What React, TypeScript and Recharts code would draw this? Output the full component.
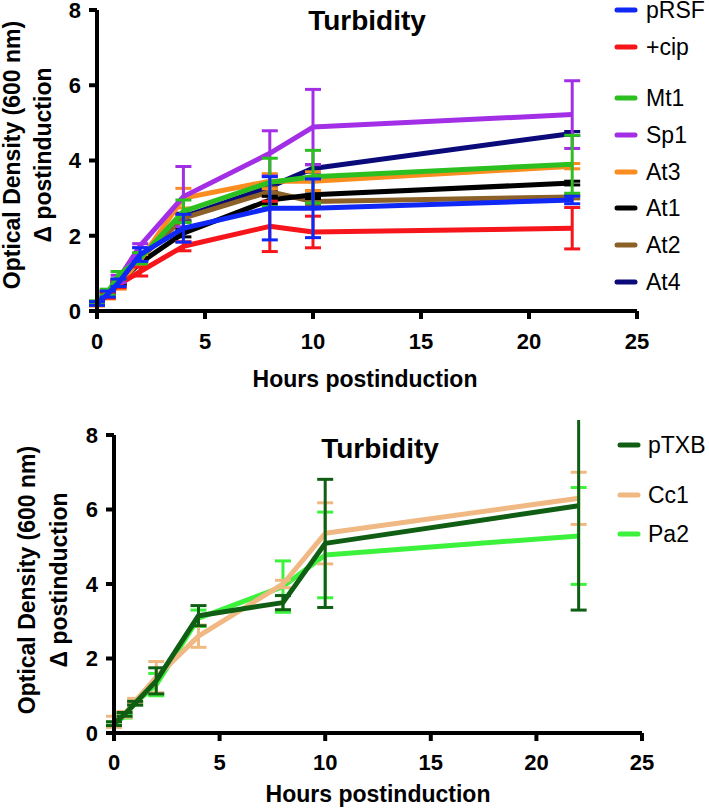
import React from "react";
import { LineChart, Line, XAxis, YAxis, ErrorBar } from "recharts";

// hours postinduction
const hoursTop = [0, 0.5, 1, 2, 4, 8, 10, 22];
const hoursBottom = [0, 0.5, 1, 2, 4, 8, 10, 22];

const xTicks = [0, 5, 10, 15, 20, 25];
const yTicks = [0, 2, 4, 6, 8];

// top panel series (OD600 delta) and SD
const pRSF = [0.2, 0.45, 0.75, 1.5, 2.2, 2.73, 2.73, 2.95];
const pRSFErr = [0.05, 0.08, 0.1, 0.18, 0.37, 0.84, 0.78, 0.1];
const cip = [0.2, 0.42, 0.7, 1.05, 1.72, 2.25, 2.1, 2.2];
const cipErr = [0.05, 0.08, 0.08, 0.12, 0.12, 0.67, 0.42, 0.55];
const mt1 = [0.22, 0.5, 0.95, 1.4, 2.65, 3.42, 3.57, 3.9];
const mt1Err = [0.05, 0.08, 0.1, 0.15, 0.3, 0.64, 0.7, 0.77];
const sp1 = [0.2, 0.48, 0.85, 1.74, 3.04, 4.19, 4.89, 5.22];
const sp1Err = [0.05, 0.08, 0.1, 0.05, 0.8, 0.6, 1.0, 0.9];
const at3 = [0.18, 0.42, 0.7, 1.35, 3.0, 3.45, 3.45, 3.85];
const at3Err = [0.05, 0.1, 0.12, 0.15, 0.26, 0.2, 0.25, 0.07];
const at1 = [0.2, 0.45, 0.75, 1.28, 2.07, 2.95, 3.09, 3.4];
const at1Err = [0.03, 0.05, 0.05, 0.08, 0.1, 0.1, 0.1, 0.05];
const at2 = [0.2, 0.45, 0.78, 1.4, 2.47, 3.17, 2.91, 3.03];
const at2Err = [0.03, 0.05, 0.05, 0.08, 0.1, 0.12, 0.1, 0.05];
const at4 = [0.2, 0.45, 0.78, 1.45, 2.5, 3.3, 3.79, 4.72];
const at4Err = [0.03, 0.05, 0.05, 0.08, 0.1, 0.1, 0.1, 0.05];

// bottom panel
const pTXB = [0.25, 0.5, 0.8, 1.4, 3.15, 3.5, 5.09, 6.1];
const pTXBErr = [0.05, 0.05, 0.05, 0.35, 0.27, 0.19, 1.72, 2.8];
const cc1 = [0.3, 0.5, 0.85, 1.5, 2.6, 4.0, 5.36, 6.3];
const cc1Err = [0.15, 0.08, 0.08, 0.42, 0.3, 0.1, 0.82, 0.7];
const pa2 = [0.25, 0.45, 0.8, 1.3, 3.08, 3.93, 4.78, 5.29];
const pa2Err = [0.05, 0.05, 0.05, 0.3, 0.22, 0.69, 1.15, 1.3];

const topSeries = [
  { key: "pRSF", values: pRSF, err: pRSFErr, color: "#1028f5" },
  { key: "+cip", values: cip, err: cipErr, color: "#f5151a" },
  { key: "Mt1", values: mt1, err: mt1Err, color: "#2cbf20" },
  { key: "Sp1", values: sp1, err: sp1Err, color: "#a22ee6" },
  { key: "At3", values: at3, err: at3Err, color: "#fa8c20" },
  { key: "At1", values: at1, err: at1Err, color: "#000000" },
  { key: "At2", values: at2, err: at2Err, color: "#8b6128" },
  { key: "At4", values: at4, err: at4Err, color: "#0a0a7a" },
];
// draw order (last on top)
const topOrder = ["At4", "At2", "At1", "At3", "+cip", "Sp1", "Mt1", "pRSF"];

const bottomSeries = [
  { key: "pTXB", values: pTXB, err: pTXBErr, color: "#105e14" },
  { key: "Cc1", values: cc1, err: cc1Err, color: "#f0b882" },
  { key: "Pa2", values: pa2, err: pa2Err, color: "#3cf23c" },
];
const bottomOrder = ["Pa2", "Cc1", "pTXB"];

const FONT = "'Liberation Sans', Arial, Helvetica, sans-serif";

function buildRows(hours: number[], series: typeof topSeries) {
  return hours.map((t, i) => {
    const row: Record<string, number> = { t };
    series.forEach((s) => {
      row[s.key] = s.values[i];
      row[s.key + "_e"] = s.err[i];
    });
    return row;
  });
}

const topRows = buildRows(hoursTop, topSeries);
const bottomRows = buildRows(hoursBottom, bottomSeries);

const axisLine = { stroke: "#000", strokeWidth: 4 };
const tickStyle = { fill: "#000", fontSize: 22, fontWeight: 700, fontFamily: FONT };

function Panel({
  rows,
  series,
  order,
  margin,
  height,
  xMargin,
}: {
  rows: Record<string, number>[];
  series: typeof topSeries;
  order: string[];
  margin: { top: number; right: number; left: number; bottom: number };
  height: number;
  xMargin: number;
}) {
  return (
    <LineChart width={709} height={height} data={rows} margin={margin}>
      <XAxis
        dataKey="t"
        type="number"
        domain={[0, 25]}
        ticks={xTicks}
        interval={0}
        height={30}
        axisLine={axisLine}
        tickLine={axisLine}
        tickSize={8}
        tickMargin={xMargin}
        tick={tickStyle}
      />
      <YAxis
        type="number"
        domain={[0, 8]}
        ticks={yTicks}
        interval={0}
        width={60}
        allowDataOverflow
        axisLine={axisLine}
        tickLine={axisLine}
        tickSize={8}
        tickMargin={8}
        tick={tickStyle}
      />
      {order.map((k) => {
        const s = series.find((x) => x.key === k)!;
        return (
          <Line
            key={k}
            dataKey={k}
            type="linear"
            stroke={s.color}
            strokeWidth={5}
            strokeLinejoin="round"
            dot={false}
            activeDot={false}
            isAnimationActive={false}
          >
            <ErrorBar
              dataKey={k + "_e"}
              width={8}
              strokeWidth={3}
              stroke={s.color}
              direction="y"
              isAnimationActive={false}
            />
          </Line>
        );
      })}
    </LineChart>
  );
}

const topLegendY = [10, 47, 98, 135, 172, 208, 245, 282];
const bottomLegendY = [445, 495, 534];

function Overlay() {
  const yLabel = (x1: number, x2: number, cy: number) => (
    <g fontFamily={FONT} fontWeight={700} fontSize={23} fill="#000" textAnchor="middle">
      <text x={x1} y={cy} transform={`rotate(-90 ${x1} ${cy})`}>
        Optical Density (600 nm)
      </text>
      <text x={x2} y={cy} transform={`rotate(-90 ${x2} ${cy})`}>
        Δ postinduction
      </text>
    </g>
  );
  return (
    <svg
      width={709}
      height={810}
      style={{ position: "absolute", left: 0, top: 0, pointerEvents: "none" }}
    >
      <g fontFamily={FONT} fontWeight={700} fontSize={28} fill="#000" textAnchor="middle">
        <text x={367} y={30}>Turbidity</text>
        <text x={380} y={458}>Turbidity</text>
      </g>
      <g fontFamily={FONT} fontWeight={700} fontSize={23} fill="#000" textAnchor="middle">
        <text x={365} y={387}>Hours postinduction</text>
        <text x={378} y={802}>Hours postinduction</text>
      </g>
      {yLabel(20, 50.5, 155)}
      {yLabel(35, 67, 580)}
      <g fontFamily={FONT} fontSize={23} fill="#000">
        {topSeries.map((s, i) => (
          <g key={s.key}>
            <line x1={617} x2={635} y1={topLegendY[i]} y2={topLegendY[i]} stroke={s.color} strokeWidth={5} strokeLinecap="round" />
            <text x={646} y={topLegendY[i] + 8}>{s.key}</text>
          </g>
        ))}
        {bottomSeries.map((s, i) => (
          <g key={s.key}>
            <line x1={620} x2={638} y1={bottomLegendY[i]} y2={bottomLegendY[i]} stroke={s.color} strokeWidth={5} strokeLinecap="round" />
            <text x={648} y={bottomLegendY[i] + 8}>{s.key}</text>
          </g>
        ))}
      </g>
    </svg>
  );
}

export default function App() {
  return (
    <div style={{ position: "absolute", left: 0, top: 0, width: 709, height: 810, background: "#fff" }}>
      <div style={{ position: "absolute", left: 0, top: 0 }}>
        <Panel
          rows={topRows}
          series={topSeries}
          order={topOrder}
          height={400}
          margin={{ top: 10, right: 72, left: 37, bottom: 59 }}
          xMargin={14}
        />
      </div>
      <div style={{ position: "absolute", left: 0, top: 420 }}>
        <Panel
          rows={bottomRows}
          series={bottomSeries}
          order={bottomOrder}
          height={390}
          margin={{ top: 15, right: 67, left: 54, bottom: 47 }}
          xMargin={13}
        />
      </div>
      <Overlay />
    </div>
  );
}
